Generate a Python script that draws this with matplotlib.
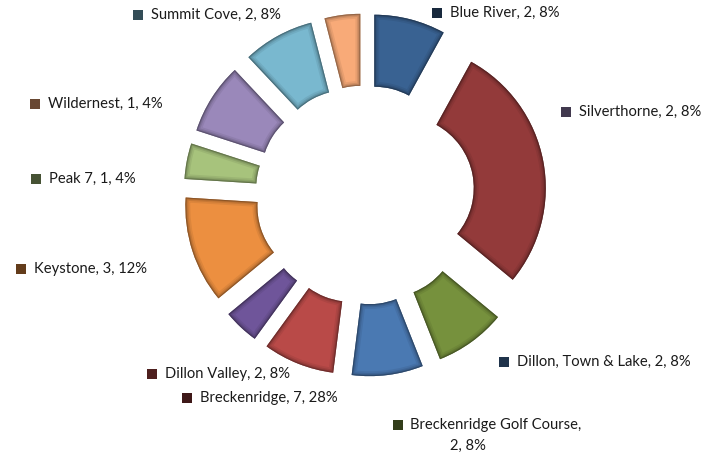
import numpy as np
import matplotlib
matplotlib.use("Agg")
import matplotlib.pyplot as plt
from matplotlib.colors import to_rgb
from matplotlib.patches import Rectangle, Wedge

# wedges in drawing order, clockwise from 12 o'clock
names = ["Blue River", "Breckenridge", "Breckenridge Golf Course", "Dillon, Town & Lake",
         "Dillon Valley", None, "Keystone", "Peak 7", "Silverthorne", "Summit Cove", "Wildernest"]
values = [2, 7, 2, 2, 2, 1, 3, 1, 2, 2, 1]
colors = ["#396292", "#933a3a", "#76913d", "#4a79b2", "#b94a48", "#6f559a",
          "#ec8f40", "#a7c37c", "#9a88ba", "#79b8cf", "#f8aa78"]

# where excel dropped each label (pixels from top-left: key left edge, text middle)
label_pos = {
    "Blue River": (432, 13),
    "Silverthorne": (561, 112),
    "Dillon, Town & Lake": (499, 362),
    "Breckenridge Golf Course": (393, 425),
    "Breckenridge": (182, 398),
    "Dillon Valley": (147, 374),
    "Keystone": (16, 269),
    "Peak 7": (31, 179),
    "Wildernest": (30, 104),
    "Summit Cove": (133, 15),
}

W, H = 717, 453
R = 144.0
cx, cy = 365, 195

fig = plt.figure(figsize=(W / 100, H / 100), dpi=100)
ax = fig.add_axes([0, 0, 1, 1])


def darker(c, f):
    return tuple(v * f for v in to_rgb(c))


wedges, _ = ax.pie(values, colors=colors, startangle=90, counterclock=False,
                   explode=[0.26] * len(values), radius=1.0,
                   wedgeprops=dict(width=72 / R, linewidth=0))

# soft bevel: darker strokes clipped to the inside of every wedge
for w, c in zip(wedges, colors):
    for lw, a in [(7, 0.12), (4.5, 0.18), (2.5, 0.3), (1.2, 0.55)]:
        rim = Wedge(w.center, w.r, w.theta1, w.theta2, width=w.width,
                    facecolor="none", edgecolor=darker(c, 0.45), linewidth=lw, alpha=a)
        ax.add_patch(rim)
        rim.set_clip_path(w)

# pie() resets the limits, so set them afterwards
ax.set_xlim(-cx / R, (W - cx) / R)
ax.set_ylim(-(H - cy) / R, cy / R)
ax.set_aspect("equal")
ax.axis("off")

total = sum(values)
for n, v, c in zip(names, values, colors):
    if n is None:
        continue
    x, y = label_pos[n]
    fig.add_artist(Rectangle((x / W, 1 - (y + 5) / H), 10 / W, 10 / H,
                             transform=fig.transFigure, facecolor=darker(c, 0.42),
                             edgecolor="none"))
    pct = round(100 * v / total)
    if n == "Breckenridge Golf Course":
        fig.text((x + 17) / W, 1 - y / H, f"{n},", va="center", ha="left",
                 fontsize=10.6, family="Lato", color="#1a1a1a")
        fig.text((x + 75) / W, 1 - (y + 21) / H, f"{v}, {pct}%", va="center", ha="center",
                 fontsize=10.6, family="Lato", color="#1a1a1a")
    else:
        fig.text((x + 18) / W, 1 - y / H, f"{n}, {v}, {pct}%", va="center", ha="left",
                 fontsize=10.6, family="Lato", color="#1a1a1a")

fig.savefig("out.png", dpi=100)
